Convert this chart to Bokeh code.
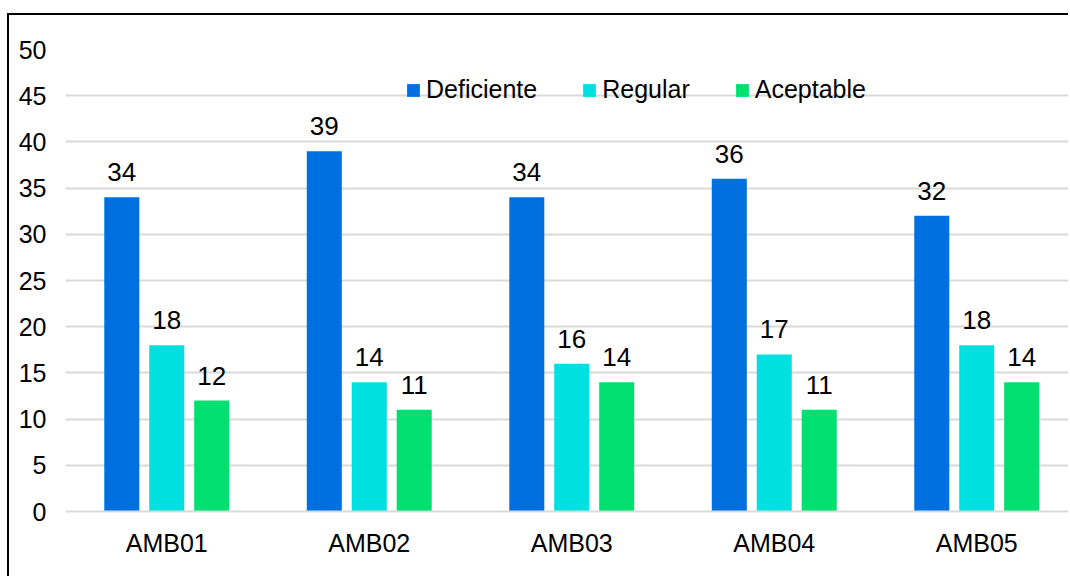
from bokeh.plotting import figure
from bokeh.models import Range1d, FixedTicker, ColumnDataSource, Legend, LegendItem
from bokeh.transform import dodge
from bokeh.core.properties import value
from bokeh.embed import file_html
from bokeh.resources import INLINE

categories = ["AMB01", "AMB02", "AMB03", "AMB04", "AMB05"]
deficiente = [34, 39, 34, 36, 32]
regular = [18, 14, 16, 17, 18]
aceptable = [12, 11, 14, 11, 14]
series_names = ["Deficiente", "Regular", "Aceptable"]
series_colors = ["#0070E0", "#00E0E0", "#00E070"]
y_ticks = [0, 5, 10, 15, 20, 25, 30, 35, 40, 45, 50]

FONT = "Liberation Sans"
FS = "25px"

src = ColumnDataSource(dict(
    x=list(range(len(categories))),
    deficiente=deficiente,
    regular=regular,
    aceptable=aceptable,
    deficiente_txt=[str(v) for v in deficiente],
    regular_txt=[str(v) for v in regular],
    aceptable_txt=[str(v) for v in aceptable],
))

p = figure(
    width=1061, height=563,
    x_range=Range1d(-0.5, 4.463),
    y_range=Range1d(0, 50),
    output_backend="svg", toolbar_location=None,
    min_border_left=56, min_border_right=0,
    min_border_top=34, min_border_bottom=67,
)
p.styles = {
    "margin-left": "7px", "margin-top": "13px",
    "border-left": "2px solid black", "border-top": "2px solid black",
}
p.outline_line_color = None
p.background_fill_color = "white"
p.border_fill_color = "white"

# grid
p.xgrid.grid_line_color = None
p.ygrid.grid_line_color = "#D9D9D9"
p.ygrid.grid_line_width = 2
p.ygrid.ticker = FixedTicker(ticks=y_ticks)

# y axis
p.yaxis.ticker = FixedTicker(ticks=y_ticks)
p.yaxis.axis_line_color = None
p.yaxis.major_tick_line_color = None
p.yaxis.minor_tick_line_color = None
p.yaxis.major_tick_out = 0
p.yaxis.major_tick_in = 0
p.yaxis.major_label_standoff = 19
p.yaxis.major_label_text_font = FONT
p.yaxis.major_label_text_font_size = FS
p.yaxis.major_label_text_color = "black"

# x axis
p.xaxis.ticker = FixedTicker(ticks=list(range(len(categories))))
p.xaxis.major_label_overrides = {i: c for i, c in enumerate(categories)}
p.xaxis.axis_line_color = "#D9D9D9"
p.xaxis.axis_line_width = 2
p.xaxis.major_tick_line_color = None
p.xaxis.minor_tick_line_color = None
p.xaxis.major_tick_out = 0
p.xaxis.major_tick_in = 0
p.xaxis.major_label_standoff = 17
p.xaxis.major_label_text_font = FONT
p.xaxis.major_label_text_font_size = FS
p.xaxis.major_label_text_color = "black"

offsets = [-0.222, 0.0, 0.222]
fields = ["deficiente", "regular", "aceptable"]
items = []
for name, field, color, off in zip(series_names, fields, series_colors, offsets):
    r = p.vbar(x=dodge("x", off, range=p.x_range), top=field, width=0.173,
               source=src, fill_color=color, line_color=None)
    p.text(x=dodge("x", off, range=p.x_range), y=field, text=field + "_txt",
           source=src, text_align="center", text_baseline="alphabetic",
           y_offset=-25, text_font=value(FONT), text_font_size="26px",
           text_color="black")
    items.append(LegendItem(label=name, renderers=[r]))

legend = Legend(items=items, orientation="horizontal", location=(340, 407))
legend.glyph_width = 16
legend.glyph_height = 16
legend.label_standoff = 5
legend.spacing = 44
legend.padding = 0
legend.margin = 0
legend.border_line_color = None
legend.background_fill_alpha = 0
legend.label_text_font = FONT
legend.label_text_font_size = FS
legend.label_text_color = "black"
p.add_layout(legend, "center")

open("out.html", "w").write(file_html(p, INLINE))
